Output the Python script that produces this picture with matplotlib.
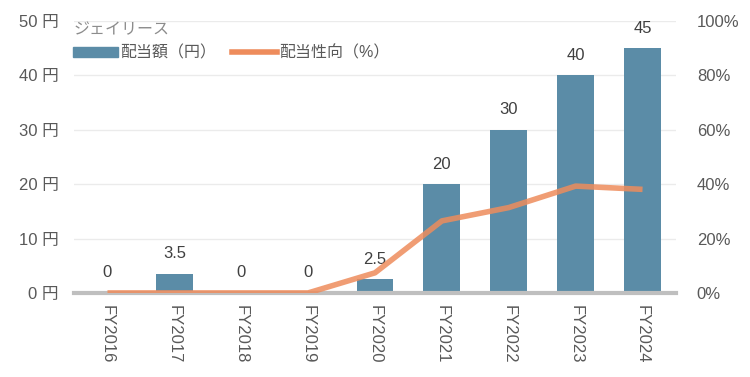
import matplotlib.pyplot as plt
from matplotlib.ticker import FuncFormatter
from matplotlib.lines import Line2D
from matplotlib.patches import Patch

plt.rcParams['font.family'] = ['Liberation Sans', 'Noto Sans CJK JP']

years = ["FY2016", "FY2017", "FY2018", "FY2019", "FY2020",
         "FY2021", "FY2022", "FY2023", "FY2024"]
dividend = [0, 3.5, 0, 0, 2.5, 20, 30, 40, 45]
dividend_labels = ["0", "3.5", "0", "0", "2.5", "20", "30", "40", "45"]
payout = [0, 0, 0, 0, 7.4, 26.5, 31.4, 39.3, 38.1]

bar_color = "#5b8ca7"
line_color = "#ee8c5c"
text_color = "#595959"

fig = plt.figure(figsize=(7.5, 3.77), dpi=100)
ax = fig.add_axes([0.0987, 0.223, 0.8026, 0.721])
ax2 = ax.twinx()

x = range(len(years))
ax.bar(x, dividend, width=0.55, color=bar_color, zorder=2)
for i, (v, lab) in enumerate(zip(dividend, dividend_labels)):
    ax.annotate(lab, (i, v), xytext=(0, 9), textcoords="offset points",
                ha="center", va="bottom", fontsize=12, color="#404040")

ax2.plot(x, payout, color=line_color, lw=4, alpha=0.85,
         solid_capstyle="butt", zorder=3)

ax.set_xlim(-0.5, 8.5)
ax.set_ylim(0, 50)
ax2.set_ylim(0, 100)
ax.set_yticks(range(0, 51, 10))
ax2.set_yticks(range(0, 101, 20))
ax.yaxis.set_major_formatter(FuncFormatter(lambda v, _: f"{v:g} 円"))
ax2.yaxis.set_major_formatter(FuncFormatter(lambda v, _: f"{v:g}%"))
ax.set_xticks(list(x))
ax.set_xticklabels(years, rotation=-90)

ax.grid(axis="y", color="#ebebeb", lw=1, zorder=0)
for a in (ax, ax2):
    for s in ("top", "left", "right", "bottom"):
        a.spines[s].set_visible(False)
    a.tick_params(length=0, labelsize=12, labelcolor=text_color)
ax.axhline(0, color="#bfbfbf", lw=3, zorder=4, clip_on=False)
ax.tick_params(axis="y", pad=11)
ax2.tick_params(axis="y", pad=15)
ax.tick_params(axis="x", pad=9)

handles = [Patch(color=bar_color, label="配当額（円）"),
           Line2D([], [], color=line_color, lw=4, label="配当性向（%）")]
leg = ax2.legend(handles=handles, title="ジェイリース", ncol=2, loc="upper left",
                 bbox_to_anchor=(-0.025, 1.05), frameon=False, fontsize=11.5,
                 title_fontsize=11.5, handlelength=2.8, handleheight=0.6,
                 columnspacing=1.0, handletextpad=0.15, alignment="left",
                 labelcolor=text_color)
leg.get_title().set_color("#8c8c8c")

fig.savefig("out.png", dpi=100)
